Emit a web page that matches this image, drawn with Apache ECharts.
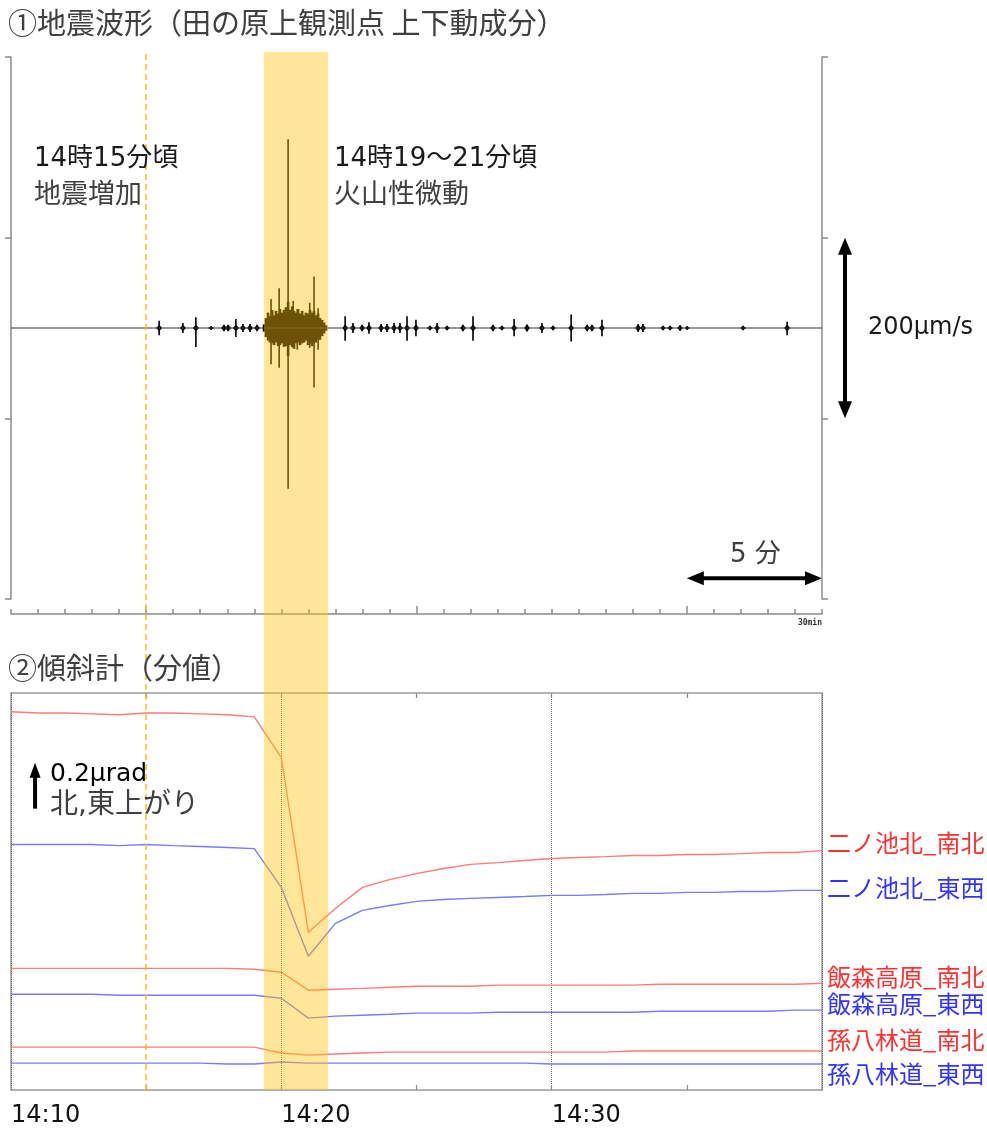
<!DOCTYPE html>
<html><head><meta charset="utf-8">
<script src="https://cdn.jsdelivr.net/npm/echarts@6/dist/echarts.min.js"></script>
<style>html,body{margin:0;padding:0;background:#fff}#c{width:987px;height:1135px}</style>
</head><body><div id="c"></div>
<script>
// ---------- time (minutes after 14:00) ----------
const timeRange = [10, 40];
const eventStart = 15;               // 14:15 地震増加
const tremorBand = [19.36, 21.73];   // 14:19〜21 火山性微動

// ---------- ① seismic waveform (μm/s) ----------
const seisRange = [-300, 300];
const seisTicks = [-300, -100, 100, 300];
const seisBaseline = [10, 40];
const burstT = [15.48,16.36,16.84,17.40,17.88,18.03,18.32,18.58,18.84,19.10,19.62,19.92,20.25,20.44,20.59,21.05,21.21,21.36,22.36,22.65,22.99,23.24,23.69,23.91,24.17,24.39,24.65,24.98,25.50,25.76,26.13,26.72,27.09,27.83,28.16,28.61,29.09,29.64,30.05,30.72,31.31,31.49,31.86,33.20,33.38,34.12,34.38,34.75,35.01,37.08,38.71];
const burstUp = [8,5.5,12,2,3.5,3.5,10,4.5,4.5,3.5,32,44,209,30,21,28,57,22,13,5.5,3.5,6.5,4.5,4.5,5.5,5.5,13,9,2.5,5.5,2.5,3.5,13,3.5,2.5,10,4,5.5,2.5,15,3.5,3.5,9,4.5,4.5,2.5,2.5,3,2,2.5,7];
const burstDown = [8,5.5,21,2,3.5,3.5,10,4.5,4.5,3.5,40,44,178,22,24,22,66,24,14,5.5,3.5,6.5,4.5,4.5,5.5,5.5,14,9,2.5,5.5,2.5,3.5,14,3.5,2.5,9,4,5.5,2.5,15,3.5,3.5,9,4.5,4.5,2.5,2.5,3,2,2.5,8];
const tremorT = [19.36,19.43,19.51,19.58,19.66,19.73,19.80,19.88,19.95,20.03,20.10,20.17,20.25,20.32,20.40,20.47,20.54,20.62,20.69,20.77,20.84,20.91,20.99,21.06,21.14,21.21,21.28,21.36,21.43,21.51,21.58,21.65];
const tremorUp = [4,11,17,13,20,14,19,16,21,17,20,23,29,20,24,19,17,21,16,19,14,17,16,20,17,19,14,16,11,9,6,3];
const tremorDown = [4,10,14,16,17,19,16,20,19,17,21,20,31,19,21,23,17,16,19,17,16,14,19,17,20,17,16,13,13,9,6,3];
const seisScaleBar = [-100, 100];     // 200μm/s
const fiveMinBar = [35, 40];          // 5 分
const fiveMinBarLevel = -277;

// ---------- ② tilt (μrad, minute values) ----------
const tiltMinutes = [10,11,12,13,14,15,16,17,18,19,20,21,22,23,24,25,26,27,28,29,30,31,32,33,34,35,36,37,38,39,40];
const tiltRange = [0, 1.73];
const tiltNames = ['二ノ池北_南北','二ノ池北_東西','飯森高原_南北','飯森高原_東西','孫八林道_南北','孫八林道_東西'];
const niNoIkeNS = [1.648,1.643,1.643,1.639,1.635,1.643,1.643,1.639,1.635,1.626,1.448,0.687,0.791,0.883,0.917,0.943,0.965,0.983,0.991,1.000,1.009,1.013,1.017,1.022,1.022,1.026,1.026,1.030,1.035,1.035,1.043];
const niNoIkeEW = [1.070,1.070,1.070,1.070,1.065,1.070,1.065,1.061,1.057,1.052,0.883,0.583,0.726,0.783,0.804,0.822,0.830,0.835,0.839,0.843,0.848,0.848,0.852,0.857,0.857,0.861,0.861,0.865,0.865,0.870,0.870];
const iimoriNS = [0.530,0.530,0.530,0.530,0.530,0.530,0.530,0.530,0.530,0.526,0.513,0.435,0.439,0.443,0.448,0.452,0.452,0.452,0.457,0.457,0.457,0.457,0.457,0.457,0.461,0.461,0.461,0.461,0.461,0.461,0.465];
const iimoriEW = [0.417,0.417,0.417,0.417,0.413,0.413,0.413,0.413,0.413,0.413,0.400,0.313,0.322,0.326,0.330,0.335,0.335,0.335,0.339,0.339,0.339,0.339,0.339,0.339,0.343,0.343,0.343,0.343,0.343,0.348,0.348];
const magohachiNS = [0.187,0.187,0.187,0.187,0.187,0.187,0.187,0.187,0.187,0.187,0.161,0.152,0.157,0.161,0.165,0.165,0.165,0.165,0.165,0.165,0.165,0.165,0.165,0.170,0.170,0.170,0.170,0.170,0.170,0.170,0.170];
const magohachiEW = [0.117,0.117,0.117,0.117,0.117,0.117,0.117,0.117,0.113,0.113,0.122,0.117,0.117,0.117,0.117,0.117,0.117,0.117,0.117,0.117,0.113,0.113,0.113,0.113,0.113,0.113,0.113,0.113,0.113,0.113,0.113];
const tiltSeries = [niNoIkeNS, niNoIkeEW, iimoriNS, iimoriEW, magohachiNS, magohachiEW];
const tiltScaleBar = {t: 10.89, base: 1.226, len: 0.2};   // 0.2μrad

// ---------- styling ----------
const FONT = '"Noto Sans CJK JP","Noto Sans",sans-serif';
const MIXFONT = '"DejaVu Sans","Noto Sans CJK JP",sans-serif';
const RED_LINE = '#ff7a7a', BLUE_LINE = '#7a7aff';
const RED_TXT = '#ff3030', BLUE_TXT = '#3333ff';
const tiltLineColors = [RED_LINE, BLUE_LINE, RED_LINE, BLUE_LINE, RED_LINE, BLUE_LINE];
const tiltTextColors = [RED_TXT, BLUE_TXT, RED_TXT, BLUE_TXT, RED_TXT, BLUE_TXT];
const tiltLabelDy = [-8, -2, -6, -6, -11, 10];
const AX = '#8c8c8c';

function renderBurst(params, api) {
  const t = api.value(0), up = api.value(1), dn = api.value(2);
  const c = api.coord([t, 0]);
  const pu = api.coord([t, up]);
  const pd = api.coord([t, -dn]);
  const bh = Math.min(3.5, (c[1] - pu[1]), (pd[1] - c[1]));
  return {type: 'group', children: [
    {type: 'polygon', shape: {points: [[c[0]-3, c[1]], [c[0], c[1]-bh], [c[0]+3, c[1]], [c[0], c[1]+bh]]}, style: {fill: '#000'}},
    {type: 'line', shape: {x1: c[0], y1: pu[1], x2: c[0], y2: pd[1]}, style: {stroke: '#000', lineWidth: 1.6}}
  ]};
}
function renderTremor(params, api) {
  const t = api.value(0);
  const pu = api.coord([t, api.value(1)]);
  const pd = api.coord([t, -api.value(2)]);
  return {type: 'rect', shape: {x: pu[0]-1.3, y: pu[1], width: 2.6, height: pd[1]-pu[1]}, style: {fill: '#000'}};
}

const chart = echarts.init(document.getElementById('c'), null, {renderer: 'canvas'});
const tickStyle = {color: AX, width: 1.5};

const option = {
  animation: false,
  backgroundColor: '#fff',
  textStyle: {fontFamily: FONT},
  grid: [
    {left: 11, top: 57, width: 811, height: 542},
    {left: 11, top: 693, width: 811, height: 397, show: true, borderColor: '#9a9a9a', borderWidth: 1.5, backgroundColor: 'transparent'},
    {left: 11, top: 52, width: 811, height: 1038}
  ],
  xAxis: [
    {gridIndex: 0, type: 'value', min: timeRange[0], max: timeRange[1], interval: 1, position: 'bottom', offset: 15,
     axisLine: {onZero: false, lineStyle: tickStyle}, axisTick: {inside: true, length: 5, lineStyle: tickStyle},
     axisLabel: {show: false}, splitLine: {show: false}},
    {gridIndex: 0, type: 'value', min: timeRange[0], max: timeRange[1], position: 'bottom', offset: 15,
     axisLine: {show: false, onZero: false}, axisTick: {inside: true, length: 8, customValues: [15, 25, 35], lineStyle: tickStyle},
     axisLabel: {show: false}, splitLine: {show: false}},
    {gridIndex: 1, type: 'value', min: timeRange[0], max: timeRange[1], interval: 10, position: 'bottom',
     axisLine: {show: false, onZero: false}, axisTick: {show: false},
     axisLabel: {show: true, showMaxLabel: false, formatter: v => v >= 40 ? '' : '14:' + v, align: 'left', fontSize: 24, fontFamily: MIXFONT, color: '#111', margin: 14},
     splitLine: {show: true, lineStyle: {type: 'dotted', color: '#666', width: 1}}},
    {gridIndex: 1, type: 'value', min: timeRange[0], max: timeRange[1], position: 'top',
     axisLine: {show: false, onZero: false}, axisTick: {inside: true, length: 5, customValues: [15, 20, 25, 30, 35], lineStyle: {color: '#888', width: 1.2}},
     axisLabel: {show: false}, splitLine: {show: false}},
    {gridIndex: 1, type: 'value', min: timeRange[0], max: timeRange[1], position: 'bottom',
     axisLine: {show: false, onZero: false}, axisTick: {inside: true, length: 5, customValues: [15, 20, 25, 30, 35], lineStyle: {color: '#888', width: 1.2}},
     axisLabel: {show: false}, splitLine: {show: false}},
    {gridIndex: 2, type: 'value', min: timeRange[0], max: timeRange[1], show: false}
  ],
  yAxis: [
    {gridIndex: 0, type: 'value', min: seisRange[0], max: seisRange[1], position: 'left',
     axisLine: {show: true, onZero: false, lineStyle: tickStyle}, axisTick: {show: true, length: 6, customValues: seisTicks, lineStyle: tickStyle},
     axisLabel: {show: false}, splitLine: {show: false}},
    {gridIndex: 0, type: 'value', min: seisRange[0], max: seisRange[1], position: 'right',
     axisLine: {show: true, onZero: false, lineStyle: tickStyle}, axisTick: {show: true, length: 6, customValues: seisTicks, lineStyle: tickStyle},
     axisLabel: {show: false}, splitLine: {show: false}},
    {gridIndex: 1, type: 'value', min: tiltRange[0], max: tiltRange[1], show: false, splitLine: {show: false}},
    {gridIndex: 2, type: 'value', min: 0, max: 1, show: false}
  ],
  series: [
    {type: 'line', xAxisIndex: 0, yAxisIndex: 0, data: seisBaseline.map(t => [t, 0]), symbol: 'none',
     lineStyle: {color: '#333', width: 1.2}, silent: true},
    {type: 'custom', xAxisIndex: 0, yAxisIndex: 0, renderItem: renderBurst, encode: {x: 0, y: 1},
     data: burstT.map((t, i) => [t, burstUp[i], burstDown[i]]), silent: true},
    {type: 'custom', xAxisIndex: 0, yAxisIndex: 0, renderItem: renderTremor, encode: {x: 0, y: 1},
     data: tremorT.map((t, i) => [t, tremorUp[i], tremorDown[i]]), silent: true},
    ...tiltSeries.map((arr, k) => ({
      type: 'line', name: tiltNames[k], xAxisIndex: 2, yAxisIndex: 2, symbol: 'none', silent: true,
      data: tiltMinutes.map((m, i) => [m, arr[i]]),
      lineStyle: {color: tiltLineColors[k], width: 1.4},
      endLabel: {show: true, formatter: tiltNames[k], color: tiltTextColors[k], fontSize: 24, fontFamily: FONT, distance: 5, offset: [0, tiltLabelDy[k]]}
    })),
    {type: 'line', xAxisIndex: 5, yAxisIndex: 3, data: [[10, 0]], symbol: 'none', silent: true, lineStyle: {width: 0},
     markArea: {silent: true, z: 20, itemStyle: {color: 'rgba(255,196,12,0.42)'},
                data: [[{xAxis: tremorBand[0]}, {xAxis: tremorBand[1]}]]},
     markLine: {silent: true, z: 21, symbol: ['none', 'none'], label: {show: false},
                lineStyle: {color: '#FFC000', type: [6, 4], width: 1.5}, data: [{xAxis: eventStart}]}}
  ]
};
chart.setOption(option);

// ---------- annotations (arrows placed through the axes' scales) ----------
function arrow(p0, p1, w, headW, headL, both) {
  const dx = p1[0]-p0[0], dy = p1[1]-p0[1], L = Math.hypot(dx, dy);
  const ux = dx/L, uy = dy/L, nx = -uy, ny = ux, hw = headW/2;
  function head(tip, sx, sy) {
    const bx = tip[0]-sx*headL, by = tip[1]-sy*headL;
    return {type: 'polygon', shape: {points: [tip, [bx+nx*hw, by+ny*hw], [bx-nx*hw, by-ny*hw]]}, style: {fill: '#000'}};
  }
  const s = both ? [p0[0]+ux*headL*0.8, p0[1]+uy*headL*0.8] : p0;
  const e = [p1[0]-ux*headL*0.8, p1[1]-uy*headL*0.8];
  const ch = [{type: 'line', shape: {x1: s[0], y1: s[1], x2: e[0], y2: e[1]}, style: {stroke: '#000', lineWidth: w}}, head(p1, ux, uy)];
  if (both) ch.push(head(p0, -ux, -uy));
  return {type: 'group', children: ch, z: 30};
}
const cp = (si, v) => chart.convertToPixel({seriesIndex: si}, v);
const rightEdge = cp(0, [timeRange[1], 0])[0];
const sb0 = cp(0, [timeRange[1], seisScaleBar[0]]), sb1 = cp(0, [timeRange[1], seisScaleBar[1]]);
const fm0 = cp(0, [fiveMinBar[0], fiveMinBarLevel]), fm1 = cp(0, [fiveMinBar[1], fiveMinBarLevel]);
const tb0 = cp(3, [tiltScaleBar.t, tiltScaleBar.base]), tb1 = cp(3, [tiltScaleBar.t, tiltScaleBar.base + tiltScaleBar.len]);

function txt(text, x, y, size, fill, family) {
  return {type: 'text', x: x, y: y, z: 30,
    style: {text: text, font: size + 'px ' + (family || FONT), fill: fill, verticalAlign: 'middle', align: 'left'}};
}
chart.setOption({
  graphic: [
    txt('①地震波形（田の原上観測点 上下動成分）', 8, 23, 29, '#404040'),
    txt('②傾斜計（分値）', 8, 668, 29, '#404040'),
    txt('14時15分頃', 34, 159, 26, '#1a1a1a', MIXFONT),
    txt('地震増加', 34, 193, 27, '#404040'),
    txt('14時19～21分頃', 334, 159, 26, '#1a1a1a', MIXFONT),
    txt('火山性微動', 334, 193, 27, '#404040'),
    txt('200μm/s', rightEdge + 46, (sb0[1] + sb1[1]) / 2, 24, '#1a1a1a', MIXFONT),
    txt('5 分', 730, 555, 26, '#404040', MIXFONT),
    txt('0.2μrad', tb1[0] + 15, 774, 25, '#000', MIXFONT),
    txt('北,東上がり', tb1[0] + 15, 806, 28, '#404040', MIXFONT),
    {type: 'text', x: rightEdge, y: 623, z: 30, style: {text: '30min', font: 'bold 8px "DejaVu Sans Mono",monospace', fill: '#333', align: 'right', verticalAlign: 'middle'}},
    arrow([rightEdge + 23, sb0[1]], [rightEdge + 23, sb1[1]], 4, 14, 17, true),
    arrow(fm0, fm1, 4, 14, 17, true),
    arrow(tb0, tb1, 4, 11, 15, false)
  ]
});
</script></body></html>
